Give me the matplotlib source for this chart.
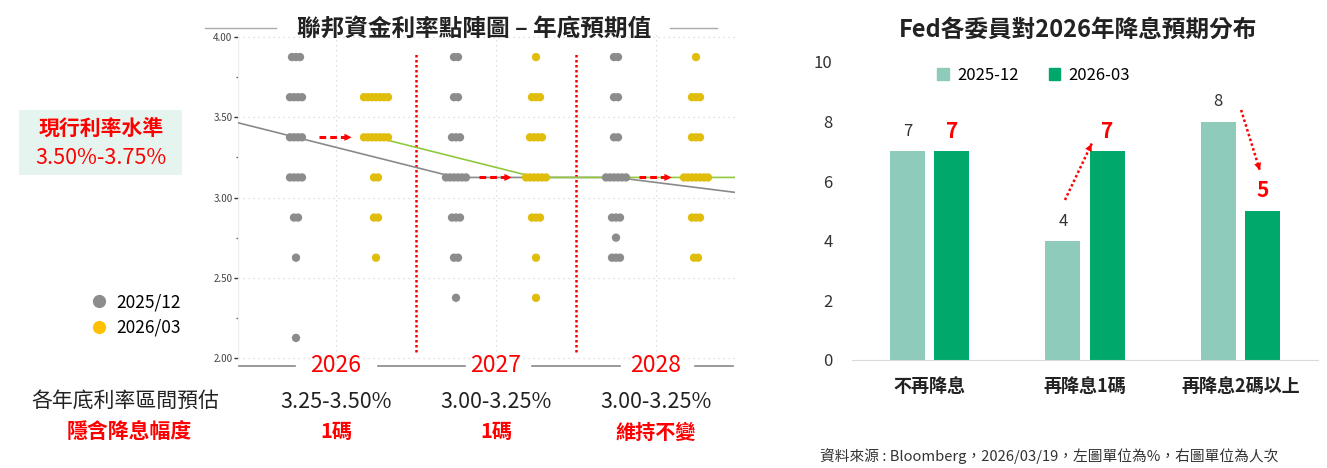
import numpy as np
import matplotlib
matplotlib.use('Agg')
import matplotlib.pyplot as plt
from matplotlib.lines import Line2D
from matplotlib.patches import Rectangle, Patch

plt.rcParams['font.family'] = ['Noto Sans CJK TC', 'DejaVu Sans']

# ---- dot plot data (number of participants at each rate level) ----
levels = [3.875, 3.625, 3.375, 3.125, 2.875, 2.75, 2.625, 2.375, 2.125]
dots_2512_2026 = [3, 4, 4, 4, 2, 0, 1, 0, 1]
dots_2603_2026 = [0, 7, 7, 2, 2, 0, 1, 0, 0]
dots_2512_2027 = [2, 2, 3, 6, 3, 0, 2, 1, 0]
dots_2603_2027 = [1, 3, 4, 6, 3, 0, 1, 1, 0]
dots_2512_2028 = [2, 2, 2, 6, 3, 1, 3, 0, 0]
dots_2603_2028 = [1, 3, 3, 7, 3, 0, 2, 0, 0]

# medians: 2025, 2026, 2027, 2028, longer run
median_2512 = [3.625, 3.375, 3.125, 3.125, 3.0]
median_2603 = [3.375, 3.125, 3.125, 3.125]   # 2026 .. longer run

years = ['2026', '2027', '2028']
range_labels = ['3.25-3.50%', '3.00-3.25%', '3.00-3.25%']
cut_labels = ['1碼', '1碼', '維持不變']

# ---- bar chart data ----
cut_categories = ['不再降息', '再降息1碼', '再降息2碼以上']
votes_2512 = [7, 4, 8]
votes_2603 = [7, 7, 5]

GRAY = '#8c8c8c'
YELLOW = '#e0bd0a'
LIGHT = '#8ecbbb'
DARK = '#00a86b'
RED = '#ff0000'

W, H = 1327, 468
fig = plt.figure(figsize=(W / 100, H / 100), dpi=100)


def fx(px):
    return px / W


def fy(py):
    return 1 - py / H


# ================= left: dot plot =================
ax = fig.add_axes([fx(238), fy(361.2), fx(735 - 238), 327.4 / H])
ax.set_xlim(-0.725, 5.4875)
ax.set_ylim(1.98, 4.02)

for s in ['top', 'right', 'bottom', 'left']:
    ax.spines[s].set_visible(False)
ax.axvline(-0.725, color='#eeeeee', lw=1)

ax.set_yticks([2.0, 2.5, 3.0, 3.5, 4.0])
ax.set_yticklabels(['2.00', '2.50', '3.00', '3.50', '4.00'])
ax.set_yticks(np.arange(2.25, 4.0, 0.5), minor=True)
ax.tick_params(axis='y', which='major', length=3, width=1, color='#333333',
               labelsize=7, labelcolor='#444444', pad=1)
ax.tick_params(axis='y', which='minor', length=1.5, width=1, color='#666666')
ax.set_xticks([])

for yv in [2.0, 2.5, 3.0, 3.5, 4.0]:
    ax.axhline(yv, color='#d6d6d6', ls=(0, (1, 3)), lw=0.9, zorder=0)
for xv in [0.5, 2.5, 4.5]:
    ax.axvline(xv, color='#d6d6d6', ls=(0, (1, 3)), lw=0.9, zorder=0)

# red separators between years
for xv in [1.5, 3.5]:
    ax.plot([xv, xv], [2.04, 3.9], color=RED, ls=(0, (1, 1)), lw=1.8, zorder=1)

# median lines
ax.plot([-2, 0, 2, 4, 6], median_2512, color='#8a8a8a', lw=1.2, zorder=2)
ax.plot([1, 3, 5, 7], median_2603, color='#92c83e', lw=1.2, zorder=2)

columns = [dots_2512_2026, dots_2603_2026, dots_2512_2027,
           dots_2603_2027, dots_2512_2028, dots_2603_2028]
spacing = 0.05
for i, counts in enumerate(columns):
    color = GRAY if i % 2 == 0 else YELLOW
    for lv, n in zip(levels, counts):
        if n == 0:
            continue
        xs = i + (np.arange(n) - (n - 1) / 2) * spacing
        ax.scatter(xs, [lv] * n, s=36, color=color, edgecolors='none', zorder=3)

# red dashed shift arrows (gray -> yellow)
for k, lv in enumerate([median_2512[1], median_2512[2], median_2512[3]]):
    x0 = 2 * k + 0.29
    x1 = 2 * k + 0.66
    ax.plot([x0, x1], [lv, lv], color=RED, lw=2.2, ls=(0, (2.2, 1.3)), zorder=4)
    ax.annotate('', xy=(x1 + 0.07, lv), xytext=(x1 - 0.01, lv),
                arrowprops=dict(arrowstyle='-|>', color=RED, lw=0,
                                mutation_scale=13), zorder=4)

# title with side rules
fig.text(fx(474), fy(29), '聯邦資金利率點陣圖 – 年底預期值', ha='center', va='center',
         fontsize=17, fontweight='bold', color='#222222')
for a, b in [(205, 276), (670, 717)]:
    fig.add_artist(Line2D([fx(a), fx(b)], [fy(28), fy(28)], color='#aaaaaa', lw=1))

# bottom rule with year labels
for a, b in [(239, 295), (378, 465), (532, 620), (695, 733)]:
    fig.add_artist(Line2D([fx(a), fx(b)], [fy(366), fy(366)], color='#888888', lw=1.2))

blend = matplotlib.transforms.blended_transform_factory(ax.transData, fig.transFigure)
for k, (yr, rl, cl) in enumerate(zip(years, range_labels, cut_labels)):
    xc = 2 * k + 0.5
    fig.text(xc, fy(366), yr, transform=blend, ha='center', va='center',
             fontsize=16.5, fontweight='medium', color=RED)
    fig.text(xc, fy(402), rl, transform=blend, ha='center', va='center',
             fontsize=15.5, color='#222222')
    fig.text(xc, fy(432), cl, transform=blend, ha='center', va='center',
             fontsize=14.5, fontweight='bold', color=RED)

fig.text(fx(125), fy(402), '各年底利率區間預估', ha='center', va='center',
         fontsize=15, color='#222222')
fig.text(fx(129), fy(432), '隱含降息幅度', ha='center', va='center',
         fontsize=15, fontweight='bold', color=RED)

# current rate box
fig.add_artist(Rectangle((fx(19), fy(175)), fx(163), 65 / H,
                         facecolor='#e5f4ee', edgecolor='none'))
fig.text(fx(101), fy(128), '現行利率水準', ha='center', va='center',
         fontsize=15, fontweight='bold', color=RED)
fig.text(fx(101), fy(158), '3.50%-3.75%', ha='center', va='center',
         fontsize=15.5, color=RED)

# dot legend
leg_handles = [Line2D([], [], marker='o', ls='', color=GRAY, ms=8.5),
               Line2D([], [], marker='o', ls='', color='#ffc000', ms=8.5)]
fig.legend(leg_handles, ['2025/12', '2026/03'], loc='center',
           bbox_to_anchor=(fx(136), fy(315)), frameon=False, fontsize=12.5,
           handletextpad=0.5, labelspacing=0.45, handlelength=1.0)

# ================= right: bar chart =================
bx = fig.add_axes([fx(852), fy(360), fx(1318 - 852), 298 / H])
xpos = np.arange(len(cut_categories))
bw = 0.225
off = 0.142
bx.bar(xpos - off, votes_2512, width=bw, color=LIGHT, label='2025-12')
bx.bar(xpos + off, votes_2603, width=bw, color=DARK, label='2026-03')
bx.set_xlim(-0.5, 2.5)
bx.set_ylim(0, 10)
bx.set_yticks(np.arange(0, 11, 2))
bx.tick_params(axis='y', length=0, labelsize=12, pad=14, labelcolor='#333333')
bx.set_xticks(xpos)
bx.set_xticklabels(cut_categories, fontsize=13, fontweight='bold', color='#222222')
bx.tick_params(axis='x', length=0, pad=12)
for s in ['top', 'right', 'left']:
    bx.spines[s].set_visible(False)
bx.spines['bottom'].set_color('#d9d9d9')

for x, v in zip(xpos - off, votes_2512):
    bx.annotate(str(v), (x, v), xytext=(0, 8), textcoords='offset points',
                ha='center', va='bottom', fontsize=12, color='#333333')
for x, v in zip(xpos + off, votes_2603):
    bx.annotate(str(v), (x, v), xytext=(0, 7), textcoords='offset points',
                ha='center', va='bottom', fontsize=15, fontweight='bold', color=RED)

# dotted change arrows
for (x0, y0), (x1, y1) in [((0.871, 5.37), (1.045, 7.28)),
                           ((2.005, 8.39), (2.127, 6.34))]:
    bx.plot([x0, x1], [y0, y1], color=RED, ls=(0, (1, 1)), lw=1.8)
    dx, dy = x1 - x0, y1 - y0
    bx.annotate('', xy=(x1 + dx * 0.03, y1 + dy * 0.03),
                xytext=(x1 - dx * 0.15, y1 - dy * 0.15),
                arrowprops=dict(arrowstyle='-|>', color=RED, lw=0, mutation_scale=13))

bx.legend(handles=[Patch(color=LIGHT), Patch(color=DARK)], labels=['2025-12', '2026-03'],
          loc='center', bbox_to_anchor=(0.39, 0.956), ncol=2, frameon=False,
          fontsize=12, handlelength=0.7, handleheight=0.7, handletextpad=0.5,
          columnspacing=1.8)

fig.text(fx(1078), fy(30), 'Fed各委員對2026年降息預期分布', ha='center', va='center',
         fontsize=17, fontweight='bold', color='#222222')

fig.text(fx(820), fy(456), '資料來源 : Bloomberg，2026/03/19，左圖單位為%，右圖單位為人次',
         ha='left', va='center', fontsize=10.6, color='#333333')

fig.savefig('out.png', dpi=100)
